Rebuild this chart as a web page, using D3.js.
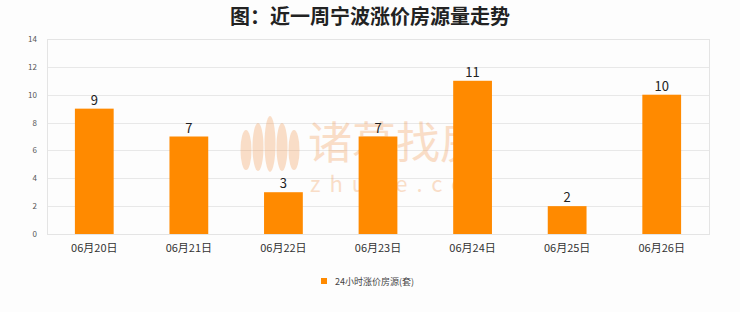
<!DOCTYPE html>
<html>
<head>
<meta charset="utf-8">
<script src="https://cdn.jsdelivr.net/npm/d3@7"></script>
<style>
    body { margin: 0; background: #fff; }
    svg { display: block; font-family: "Noto Sans CJK SC", "DejaVu Sans", sans-serif; }
</style>
</head>
<body>
<div id="chart"></div>
<script>
// Data
const categories = ['06月20日', '06月21日', '06月22日', '06月23日', '06月24日', '06月25日', '06月26日'];
const values = [9, 7, 3, 7, 11, 2, 10];
const yTicks = [0, 2, 4, 6, 8, 10, 12, 14];
const seriesName = '24小时涨价房源(套)';
const titleText = '图：近一周宁波涨价房源量走势';

const W = 740, H = 312;
const margin = { top: 39, right: 31, bottom: 78, left: 47 };
const barColor = '#ff8a00';

const svg = d3.select('#chart').append('svg')
    .attr('width', W)
    .attr('height', H);

svg.append('rect').attr('width', W).attr('height', H).attr('fill', '#fdfdfd');

// Title
svg.append('text')
    .attr('x', W / 2)
    .attr('y', 24)
    .attr('text-anchor', 'middle')
    .style('font-size', '20px')
    .style('font-weight', 'bold')
    .style('fill', '#222')
    .text(titleText);

const x = d3.scaleBand()
    .domain(categories)
    .range([margin.left, W - margin.right])
    .paddingInner(0.59)
    .paddingOuter(0.295);

const y = d3.scaleLinear()
    .domain([0, 14])
    .range([H - margin.bottom, margin.top]);

// Grid lines
svg.append('g')
    .selectAll('line')
    .data(yTicks)
    .enter().append('line')
    .attr('x1', margin.left)
    .attr('x2', W - margin.right)
    .attr('y1', d => Math.round(y(d)) + 0.5)
    .attr('y2', d => Math.round(y(d)) + 0.5)
    .attr('stroke', '#e8e8e8');

// Plot frame
svg.append('rect')
    .attr('x', margin.left + 0.5)
    .attr('y', Math.round(y(14)) + 0.5)
    .attr('width', W - margin.right - margin.left)
    .attr('height', Math.round(y(0)) - Math.round(y(14)))
    .attr('fill', 'none')
    .attr('stroke', '#e4e4e4');

// Watermark (faint logo behind the bars)
const wm = svg.append('g').style('opacity', 0.27);
wm.append('text')
    .attr('x', 308)
    .attr('y', 159)
    .style('font-size', '44px')
    .style('fill', '#f08a3a')
    .text('诸葛找房');
wm.append('text')
    .attr('x', 310)
    .attr('y', 192)
    .style('font-size', '22px')
    .style('letter-spacing', '9px')
    .style('fill', '#f08a3a')
    .text('zhuge.com');
[-24, -12, 0, 12, 24].forEach((dx, i) => {
    wm.append('ellipse')
        .attr('cx', 270 + dx)
        .attr('cy', 150 - (i === 2 ? 6 : Math.abs(dx) === 12 ? 3 : 0))
        .attr('rx', 5.5)
        .attr('ry', 28 - Math.abs(dx) / 3)
        .attr('fill', '#f08a3a');
});

// Y axis labels
svg.append('g')
    .selectAll('text')
    .data(yTicks)
    .enter().append('text')
    .attr('x', margin.left - 10)
    .attr('y', d => y(d) + 3)
    .attr('text-anchor', 'end')
    .style('font-size', '8px')
    .style('fill', '#555')
    .text(d => d);

// Bars
svg.append('g')
    .selectAll('rect')
    .data(values)
    .enter().append('rect')
    .attr('x', (d, i) => x(categories[i]))
    .attr('y', d => y(d))
    .attr('width', x.bandwidth())
    .attr('height', d => y(0) - y(d))
    .attr('fill', barColor);

// Value labels
svg.append('g')
    .selectAll('text')
    .data(values)
    .enter().append('text')
    .attr('x', (d, i) => x(categories[i]) + x.bandwidth() / 2)
    .attr('y', d => y(d) - 4)
    .attr('text-anchor', 'middle')
    .style('font-size', '13px')
    .style('fill', '#222')
    .text(d => d);

// X axis labels
svg.append('g')
    .selectAll('text')
    .data(categories)
    .enter().append('text')
    .attr('x', d => x(d) + x.bandwidth() / 2)
    .attr('y', H - margin.bottom + 18)
    .attr('text-anchor', 'middle')
    .style('font-size', '11px')
    .style('fill', '#333')
    .text(d => d);

// Legend
const legend = svg.append('g').attr('transform', 'translate(321,278)');
legend.append('rect')
    .attr('width', 6)
    .attr('height', 6)
    .attr('fill', barColor);
legend.append('text')
    .attr('x', 14)
    .attr('y', 6.5)
    .style('font-size', '9px')
    .style('fill', '#444')
    .text(seriesName);
</script>
</body>
</html>
